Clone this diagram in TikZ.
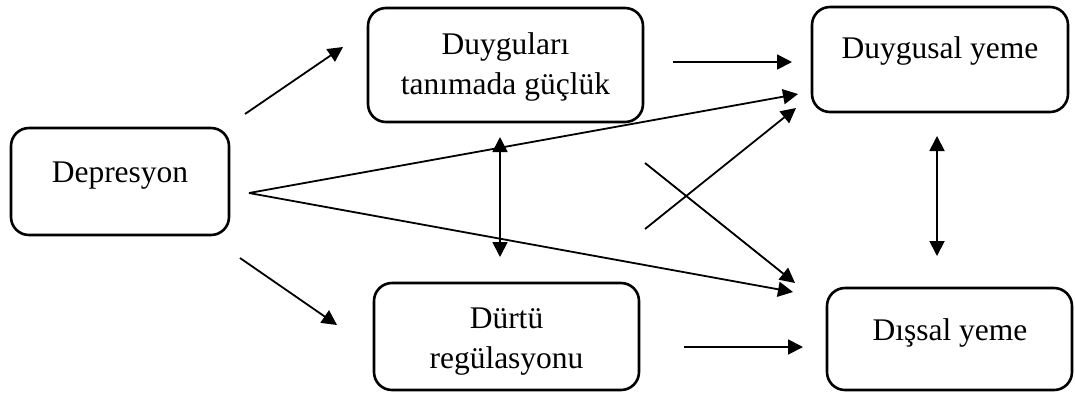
\documentclass[tikz,border=0pt]{standalone}
\usepackage{fontspec}
\setmainfont{Liberation Serif}
\usetikzlibrary{arrows.meta}
\begin{document}
\begin{tikzpicture}[x=1pt,y=-1pt,
  box/.style={draw, line width=2.6pt, rounded corners=18pt, inner sep=0pt},
  txt/.style={inner sep=0pt, align=center, font=\fontsize{31.5}{39.5}\selectfont},
  conn/.style={line width=1.8pt, -{Triangle[length=15pt,width=15pt]}},
  dconn/.style={line width=1.8pt, {Triangle[length=15pt,width=15pt]}-{Triangle[length=15pt,width=15pt]}}]
\useasboundingbox (0,0) rectangle (1075,392);
% boxes
\node[box, minimum width=218pt, minimum height=107pt] (dep) at (120,181.5) {};
\node[box, minimum width=275pt, minimum height=114pt] (dtg) at (505.5,65) {};
\node[box, minimum width=256pt, minimum height=105pt] (dy) at (940,59.5) {};
\node[box, minimum width=265pt, minimum height=107pt] (dr) at (506.5,336.5) {};
\node[box, minimum width=245pt, minimum height=102pt] (ds) at (949.5,339) {};
% texts
\node[txt, anchor=base] (tdep) at (120,182) {Depresyon};
\node[txt, anchor=base] (tdtg) at (505.5,94) {Duyguları\\tanımada güçlük};
\node[txt, anchor=base] (tdy) at (940,58) {Duygusal yeme};
\node[txt, anchor=base] (tds) at (950,340) {Dışsal yeme};
\node[txt, anchor=base] (tdr) at (506.5,368) {Dürtü\\regülasyonu};
% connector end points
\coordinate (a1s) at (245,114); \coordinate (a1e) at (343,47);
\coordinate (src) at (249,193);
\coordinate (a2e) at (798,94);
\coordinate (a3e) at (793,292);
\coordinate (a4s) at (240,258); \coordinate (a4e) at (337,325);
\coordinate (a5s) at (673,62); \coordinate (a5e) at (792,62);
\coordinate (a6s) at (684,347); \coordinate (a6e) at (803,347);
\coordinate (a7s) at (645,163); \coordinate (a7e) at (795,283);
\coordinate (a8s) at (645,229); \coordinate (a8e) at (796,108);
\coordinate (d1s) at (500,137); \coordinate (d1e) at (500,257);
\coordinate (d2s) at (937,136); \coordinate (d2e) at (937,256);
% connectors
\draw[conn] (a1s) -- (a1e);
\draw[conn] (src) -- (a2e);
\draw[conn] (src) -- (a3e);
\draw[conn] (a4s) -- (a4e);
\draw[conn] (a5s) -- (a5e);
\draw[conn] (a6s) -- (a6e);
\draw[conn] (a7s) -- (a7e);
\draw[conn] (a8s) -- (a8e);
\draw[dconn] (d1s) -- (d1e);
\draw[dconn] (d2s) -- (d2e);
\end{tikzpicture}
\end{document}
